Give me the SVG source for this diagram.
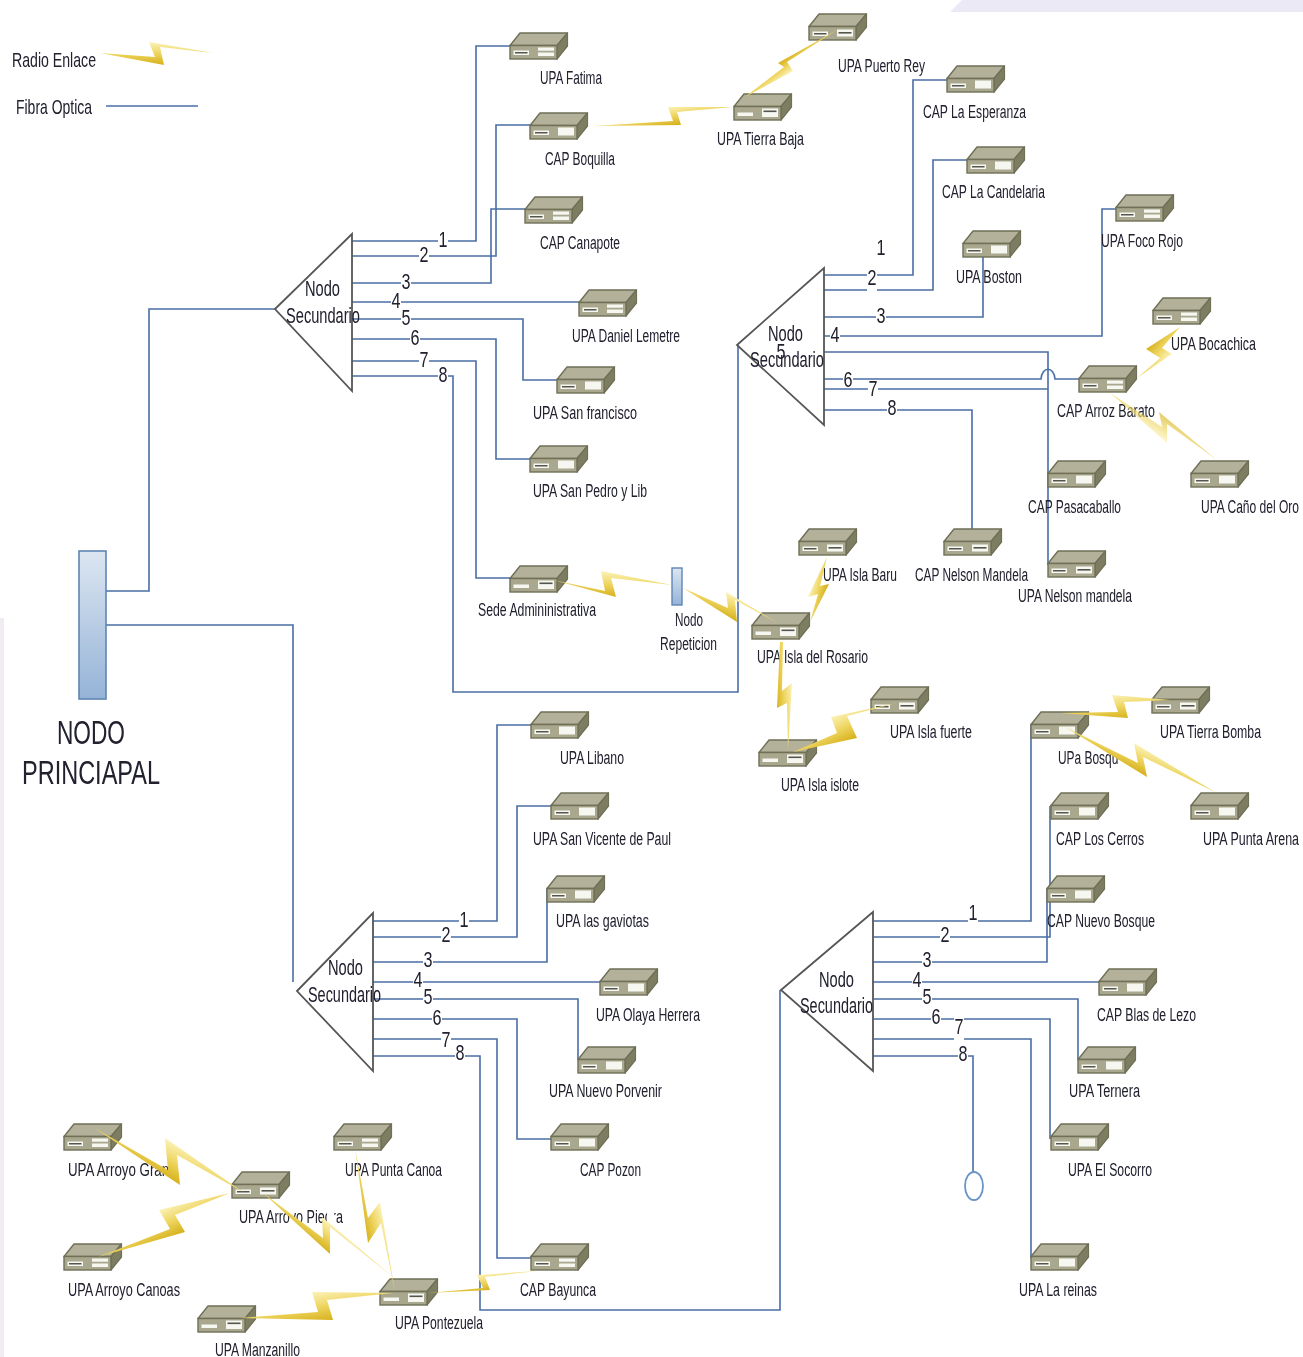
<svg xmlns="http://www.w3.org/2000/svg" xmlns:xlink="http://www.w3.org/1999/xlink" width="1303" height="1357" viewBox="0 0 1303 1357">
<style>
text{font-family:"Liberation Sans",Arial,sans-serif;fill:#20202e}
.l{font-size:18px}
.m{font-size:22px}
.b{font-size:34px}
.g{font-size:21px}
.n{font-size:22px;text-anchor:middle}
.w{fill:#fff;stroke:none}
.c path,.c line{fill:none;stroke:#4a6fa5;stroke-width:1.6}
.t{fill:none;stroke:#565656;stroke-width:1.8}
.dt{fill:#b3b199;stroke:#6f6f57;stroke-width:1.4;stroke-linejoin:round}
.df{fill:#a9a88f;stroke:#6f6f57;stroke-width:1.4}
.ds{fill:#7d7d62;stroke:#6f6f57;stroke-width:1.2;stroke-linejoin:round}
.dw{fill:#f7f7f2}
.dd{fill:#55554c}
</style>
<defs>
<filter id="soft" x="0" y="0" width="100%" height="100%"><feGaussianBlur stdDeviation="0.35"/></filter>
<linearGradient id="gold"><stop offset="0" stop-color="#fbf2b8"/><stop offset="0.5" stop-color="#eed560"/><stop offset="1" stop-color="#d6b01a"/></linearGradient>
<linearGradient id="main" x1="0" y1="0" x2="0" y2="1"><stop offset="0" stop-color="#dce6f1"/><stop offset="1" stop-color="#95b3d7"/></linearGradient>
<linearGradient id="g1" href="#gold" gradientUnits="userSpaceOnUse" x1="149" y1="42" x2="149" y2="65"/>
<linearGradient id="g2" href="#gold" gradientUnits="userSpaceOnUse" x1="668" y1="107" x2="671" y2="126"/>
<linearGradient id="g3" href="#gold" gradientUnits="userSpaceOnUse" x1="793" y1="71" x2="784" y2="59"/>
<linearGradient id="g4" href="#gold" gradientUnits="userSpaceOnUse" x1="1172" y1="354" x2="1154" y2="339"/>
<linearGradient id="g5" href="#gold" gradientUnits="userSpaceOnUse" x1="1167" y1="443" x2="1179" y2="424"/>
<linearGradient id="g6" href="#gold" gradientUnits="userSpaceOnUse" x1="1112" y1="695" x2="1115" y2="720"/>
<linearGradient id="g7" href="#gold" gradientUnits="userSpaceOnUse" x1="1134" y1="743" x2="1124" y2="767"/>
<linearGradient id="g8" href="#gold" gradientUnits="userSpaceOnUse" x1="601" y1="571" x2="600" y2="597"/>
<linearGradient id="g9" href="#gold" gradientUnits="userSpaceOnUse" x1="726" y1="592" x2="718" y2="615"/>
<linearGradient id="g10" href="#gold" gradientUnits="userSpaceOnUse" x1="808" y1="597" x2="824" y2="601"/>
<linearGradient id="g11" href="#gold" gradientUnits="userSpaceOnUse" x1="792" y1="683" x2="775" y2="684"/>
<linearGradient id="g12" href="#gold" gradientUnits="userSpaceOnUse" x1="831" y1="717" x2="844" y2="744"/>
<linearGradient id="g13" href="#gold" gradientUnits="userSpaceOnUse" x1="165" y1="1138" x2="150" y2="1172"/>
<linearGradient id="g14" href="#gold" gradientUnits="userSpaceOnUse" x1="159" y1="1210" x2="172" y2="1238"/>
<linearGradient id="g15" href="#gold" gradientUnits="userSpaceOnUse" x1="322" y1="1217" x2="307" y2="1239"/>
<linearGradient id="g16" href="#gold" gradientUnits="userSpaceOnUse" x1="380" y1="1202" x2="358" y2="1208"/>
<linearGradient id="g17" href="#gold" gradientUnits="userSpaceOnUse" x1="312" y1="1292" x2="317" y2="1323"/>
<linearGradient id="g18" href="#gold" gradientUnits="userSpaceOnUse" x1="477" y1="1275" x2="480" y2="1292"/>
<g id="dev"><path class="dt" d="M0 12.5L10 0H57.5L47 12.5Z"/><path class="ds" d="M47 12.5L57.5 0V13L47 26Z"/><rect class="df" x="0" y="12.5" width="47" height="13.5"/></g>
<g id="da"><use href="#dev"/><rect class="dw" x="3.5" y="17.5" width="15.5" height="4.5"/><rect class="dd" x="5" y="19" width="12.5" height="1.5"/><rect class="dw" x="28" y="14.5" width="16" height="3.2"/><rect class="dw" x="28" y="19.5" width="16" height="3.5"/></g>
<g id="db"><use href="#dev"/><rect class="dw" x="3.5" y="18.5" width="15.5" height="3.5"/><rect class="dw" x="28" y="14.5" width="16" height="8.5"/><rect class="dd" x="29.5" y="16.5" width="13" height="1.6"/></g>
<g id="dc"><use href="#dev"/><rect class="dw" x="3.5" y="17.5" width="15.5" height="4.5"/><rect class="dd" x="5" y="19" width="12.5" height="1.5"/><rect class="dw" x="28" y="14.5" width="16" height="8"/></g>
<g id="dd"><use href="#dev"/><rect class="dw" x="3.5" y="17.5" width="15.5" height="4.5"/><rect class="dd" x="5" y="19" width="12.5" height="1.5"/><rect class="dw" x="28" y="15.5" width="16" height="7"/><rect class="dd" x="29.5" y="18" width="13" height="1.6"/></g>
</defs>
<rect width="1303" height="1357" fill="#fff"/>
<g filter="url(#soft)">
<g id="background-tints"><path d="M962 0H1303V12H950Z" fill="#ebe9f5"/><rect x="0" y="618" width="4" height="739" fill="#f1ebf2"/></g>

<g id="connectors" class="c">
<line x1="106" y1="106" x2="198" y2="106"/>
<path d="M106 591H149V309H275"/>
<path d="M106 625H293V982"/>
<path d="M352 241H476V46H510"/>
<path d="M352 256H496V125H530"/>
<path d="M352 283H491V209H525"/>
<path d="M352 302H579"/>
<path d="M352 319H523V380H557"/>
<path d="M352 339H496V459H530"/>
<path d="M352 361H476V578H510"/>
<path d="M352 376H453V692H738V345"/>
<path d="M824 275H913V80H947"/>
<path d="M824 290H933V160H967"/>
<path d="M824 317H983V250"/>
<path d="M824 336H1102V209H1116"/>
<path d="M824 352H1048V565"/>
<path d="M824 379H1041C1042 366 1054 366 1055 379H1079"/>
<path d="M824 389H1048"/>
<path d="M824 410H972V535"/>
<path d="M373 921H497V725H531"/>
<path d="M373 937H517V806H551"/>
<path d="M373 962H547V889"/>
<path d="M373 982H600"/>
<path d="M373 999H578V1060"/>
<path d="M373 1019H517V1139H551"/>
<path d="M373 1039H497V1258H531"/>
<path d="M373 1056H480V1310H780V990"/>
<path d="M873 921H1031V725"/>
<path d="M873 937H1050V806"/>
<path d="M873 962H1047V889"/>
<path d="M873 982H1099"/>
<path d="M873 999H1078V1060"/>
<path d="M873 1019H1050V1139"/>
<path d="M873 1039H1031V1258"/>
<path d="M873 1056H973V1172"/>
<g id="line-numbers">
<rect class="w" x="438" y="232" width="10" height="17"/><text class="n" x="443" y="247" textLength="9" lengthAdjust="spacingAndGlyphs">1</text>
<rect class="w" x="419" y="247" width="10" height="17"/><text class="n" x="424" y="262" textLength="9" lengthAdjust="spacingAndGlyphs">2</text>
<rect class="w" x="401" y="274" width="10" height="17"/><text class="n" x="406" y="289" textLength="9" lengthAdjust="spacingAndGlyphs">3</text>
<rect class="w" x="391" y="293" width="10" height="17"/><text class="n" x="396" y="308" textLength="9" lengthAdjust="spacingAndGlyphs">4</text>
<rect class="w" x="401" y="310" width="10" height="17"/><text class="n" x="406" y="325" textLength="9" lengthAdjust="spacingAndGlyphs">5</text>
<rect class="w" x="410" y="330" width="10" height="17"/><text class="n" x="415" y="345" textLength="9" lengthAdjust="spacingAndGlyphs">6</text>
<rect class="w" x="419" y="352" width="10" height="17"/><text class="n" x="424" y="367" textLength="9" lengthAdjust="spacingAndGlyphs">7</text>
<rect class="w" x="438" y="367" width="10" height="17"/><text class="n" x="443" y="382" textLength="9" lengthAdjust="spacingAndGlyphs">8</text>
<text class="n" x="881" y="255" textLength="9" lengthAdjust="spacingAndGlyphs">1</text>
<rect class="w" x="867" y="268" width="10" height="24"/><text class="n" x="872" y="285" textLength="9" lengthAdjust="spacingAndGlyphs">2</text>
<rect class="w" x="876" y="308" width="10" height="17"/><text class="n" x="881" y="323" textLength="9" lengthAdjust="spacingAndGlyphs">3</text>
<rect class="w" x="830" y="327" width="10" height="17"/><text class="n" x="835" y="342" textLength="9" lengthAdjust="spacingAndGlyphs">4</text>
<rect class="w" x="843" y="371" width="10" height="17"/><text class="n" x="848" y="387" textLength="9" lengthAdjust="spacingAndGlyphs">6</text>
<rect class="w" x="868" y="381" width="10" height="17"/><text class="n" x="873" y="396" textLength="9" lengthAdjust="spacingAndGlyphs">7</text>
<rect class="w" x="887" y="401" width="10" height="17"/><text class="n" x="892" y="415" textLength="9" lengthAdjust="spacingAndGlyphs">8</text>
<rect class="w" x="459" y="912" width="10" height="17"/><text class="n" x="464" y="927" textLength="9" lengthAdjust="spacingAndGlyphs">1</text>
<rect class="w" x="441" y="928" width="10" height="17"/><text class="n" x="446" y="942" textLength="9" lengthAdjust="spacingAndGlyphs">2</text>
<rect class="w" x="423" y="953" width="10" height="17"/><text class="n" x="428" y="967" textLength="9" lengthAdjust="spacingAndGlyphs">3</text>
<rect class="w" x="413" y="973" width="10" height="17"/><text class="n" x="418" y="987" textLength="9" lengthAdjust="spacingAndGlyphs">4</text>
<rect class="w" x="423" y="990" width="10" height="17"/><text class="n" x="428" y="1004" textLength="9" lengthAdjust="spacingAndGlyphs">5</text>
<rect class="w" x="432" y="1010" width="10" height="17"/><text class="n" x="437" y="1025" textLength="9" lengthAdjust="spacingAndGlyphs">6</text>
<rect class="w" x="441" y="1030" width="10" height="17"/><text class="n" x="446" y="1047" textLength="9" lengthAdjust="spacingAndGlyphs">7</text>
<rect class="w" x="455" y="1047" width="10" height="17"/><text class="n" x="460" y="1060" textLength="9" lengthAdjust="spacingAndGlyphs">8</text>
<rect class="w" x="968" y="912" width="10" height="17"/><text class="n" x="973" y="920" textLength="9" lengthAdjust="spacingAndGlyphs">1</text>
<rect class="w" x="940" y="928" width="10" height="17"/><text class="n" x="945" y="942" textLength="9" lengthAdjust="spacingAndGlyphs">2</text>
<rect class="w" x="922" y="953" width="10" height="17"/><text class="n" x="927" y="967" textLength="9" lengthAdjust="spacingAndGlyphs">3</text>
<rect class="w" x="912" y="973" width="10" height="17"/><text class="n" x="917" y="987" textLength="9" lengthAdjust="spacingAndGlyphs">4</text>
<rect class="w" x="922" y="990" width="10" height="17"/><text class="n" x="927" y="1004" textLength="9" lengthAdjust="spacingAndGlyphs">5</text>
<rect class="w" x="931" y="1010" width="10" height="17"/><text class="n" x="936" y="1024" textLength="9" lengthAdjust="spacingAndGlyphs">6</text>
<rect class="w" x="954" y="1018" width="10" height="24"/><text class="n" x="959" y="1034" textLength="9" lengthAdjust="spacingAndGlyphs">7</text>
<rect class="w" x="958" y="1047" width="10" height="17"/><text class="n" x="963" y="1061" textLength="9" lengthAdjust="spacingAndGlyphs">8</text>
</g>
</g>

<g id="legend">
<text class="g" x="12" y="67" textLength="84" lengthAdjust="spacingAndGlyphs">Radio Enlace</text>
<text class="g" x="16" y="114" textLength="76" lengthAdjust="spacingAndGlyphs">Fibra Optica</text>
</g>

<g id="nodo-principal">
<rect x="79" y="551" width="27" height="148" fill="url(#main)" stroke="#5f85b3" stroke-width="1.6"/>
<text class="b" x="57" y="744" textLength="68" lengthAdjust="spacingAndGlyphs">NODO</text>
<text class="b" x="22" y="784" textLength="138" lengthAdjust="spacingAndGlyphs">PRINCIAPAL</text>
</g>
<g id="nodo-repeticion">
<rect x="672" y="568" width="10" height="37" fill="url(#main)" stroke="#5f85b3" stroke-width="1.4"/>
<text class="l" x="675" y="626" textLength="28" lengthAdjust="spacingAndGlyphs">Nodo</text>
<text class="l" x="660" y="650" textLength="57" lengthAdjust="spacingAndGlyphs">Repeticion</text>
</g>

<g id="nodo-secundario-1"><path class="t" d="M275 309L352 234V391Z"/><text class="m" x="305" y="296" textLength="35" lengthAdjust="spacingAndGlyphs">Nodo</text><text class="m" x="286" y="323" textLength="74" lengthAdjust="spacingAndGlyphs">Secundario</text></g>
<g id="nodo-secundario-2"><path class="t" d="M737 345L824 268V425Z"/><text class="n" x="781" y="359" textLength="9" lengthAdjust="spacingAndGlyphs">5</text><text class="m" x="768" y="341" textLength="35" lengthAdjust="spacingAndGlyphs">Nodo</text><text class="m" x="750" y="367" textLength="74" lengthAdjust="spacingAndGlyphs">Secundario</text></g>
<g id="nodo-secundario-3"><path class="t" d="M297 991L373 913V1071Z"/><text class="m" x="328" y="975" textLength="35" lengthAdjust="spacingAndGlyphs">Nodo</text><text class="m" x="308" y="1002" textLength="73" lengthAdjust="spacingAndGlyphs">Secundario</text></g>
<g id="nodo-secundario-4"><path class="t" d="M781 990L873 912V1071Z"/><text class="m" x="819" y="987" textLength="35" lengthAdjust="spacingAndGlyphs">Nodo</text><text class="m" x="800" y="1013" textLength="73" lengthAdjust="spacingAndGlyphs">Secundario</text></g>
<g id="terminal"><ellipse cx="974" cy="1186" rx="9" ry="14" fill="#fff" stroke="#6a94c8" stroke-width="1.8"/></g>

<g id="upa-fatima"><use href="#da" x="510" y="33"/><text class="l" x="540" y="84" textLength="62" lengthAdjust="spacingAndGlyphs">UPA Fatima</text></g>
<g id="cap-boquilla"><use href="#dc" x="530" y="113"/><text class="l" x="545" y="165" textLength="70" lengthAdjust="spacingAndGlyphs">CAP Boquilla</text></g>
<g id="cap-canapote"><use href="#da" x="525" y="197"/><text class="l" x="540" y="249" textLength="80" lengthAdjust="spacingAndGlyphs">CAP Canapote</text></g>
<g id="upa-daniel"><use href="#da" x="579" y="290"/><text class="l" x="572" y="342" textLength="108" lengthAdjust="spacingAndGlyphs">UPA Daniel Lemetre</text></g>
<g id="upa-san-francisco"><use href="#dc" x="557" y="367"/><text class="l" x="533" y="419" textLength="104" lengthAdjust="spacingAndGlyphs">UPA San francisco</text></g>
<g id="upa-san-pedro"><use href="#dc" x="530" y="446"/><text class="l" x="533" y="497" textLength="114" lengthAdjust="spacingAndGlyphs">UPA San Pedro y Lib</text></g>
<g id="sede"><use href="#db" x="510" y="566"/><text class="l" x="478" y="616" textLength="118" lengthAdjust="spacingAndGlyphs">Sede Admininistrativa</text></g>
<g id="upa-puerto-rey"><use href="#dd" x="809" y="14"/><text class="l" x="838" y="72" textLength="87" lengthAdjust="spacingAndGlyphs">UPA Puerto Rey</text></g>
<g id="upa-tierra-baja"><use href="#db" x="734" y="94"/><text class="l" x="717" y="145" textLength="87" lengthAdjust="spacingAndGlyphs">UPA Tierra Baja</text></g>
<g id="cap-esperanza"><use href="#dc" x="947" y="66"/><text class="l" x="923" y="118" textLength="103" lengthAdjust="spacingAndGlyphs">CAP La Esperanza</text></g>
<g id="cap-candelaria"><use href="#dc" x="967" y="147"/><text class="l" x="942" y="198" textLength="103" lengthAdjust="spacingAndGlyphs">CAP La Candelaria</text></g>
<g id="upa-boston"><use href="#dc" x="963" y="231"/><text class="l" x="956" y="283" textLength="66" lengthAdjust="spacingAndGlyphs">UPA Boston</text></g>
<g id="upa-foco-rojo"><use href="#da" x="1116" y="195"/><text class="l" x="1101" y="247" textLength="82" lengthAdjust="spacingAndGlyphs">UPA Foco Rojo</text></g>
<g id="upa-bocachica"><use href="#da" x="1153" y="298"/><text class="l" x="1171" y="350" textLength="85" lengthAdjust="spacingAndGlyphs">UPA Bocachica</text></g>
<g id="cap-arroz-barato"><use href="#da" x="1079" y="366"/><text class="l" x="1057" y="417" textLength="98" lengthAdjust="spacingAndGlyphs">CAP Arroz Barato</text></g>
<g id="cap-pasacaballo"><use href="#dc" x="1048" y="461"/><text class="l" x="1028" y="513" textLength="93" lengthAdjust="spacingAndGlyphs">CAP Pasacaballo</text></g>
<g id="upa-cano-oro"><use href="#dc" x="1191" y="461"/><text class="l" x="1201" y="513" textLength="98" lengthAdjust="spacingAndGlyphs">UPA Caño del Oro</text></g>
<g id="upa-isla-baru"><use href="#dd" x="799" y="529"/><text class="l" x="823" y="581" textLength="74" lengthAdjust="spacingAndGlyphs">UPA Isla Baru</text></g>
<g id="cap-nelson"><use href="#dd" x="944" y="529"/><text class="l" x="915" y="581" textLength="113" lengthAdjust="spacingAndGlyphs">CAP Nelson Mandela</text></g>
<g id="upa-nelson"><use href="#dd" x="1048" y="551"/><text class="l" x="1018" y="602" textLength="114" lengthAdjust="spacingAndGlyphs">UPA Nelson mandela</text></g>
<g id="upa-isla-rosario"><use href="#db" x="752" y="613"/><text class="l" x="757" y="663" textLength="111" lengthAdjust="spacingAndGlyphs">UPA Isla del Rosario</text></g>
<g id="upa-isla-fuerte"><use href="#dd" x="871" y="687"/><text class="l" x="890" y="738" textLength="82" lengthAdjust="spacingAndGlyphs">UPA Isla fuerte</text></g>
<g id="upa-isla-islote"><use href="#db" x="759" y="740"/><text class="l" x="781" y="791" textLength="78" lengthAdjust="spacingAndGlyphs">UPA Isla islote</text></g>
<g id="upa-libano"><use href="#dc" x="531" y="712"/><text class="l" x="560" y="764" textLength="64" lengthAdjust="spacingAndGlyphs">UPA Libano</text></g>
<g id="upa-san-vicente"><use href="#dc" x="551" y="793"/><text class="l" x="533" y="845" textLength="138" lengthAdjust="spacingAndGlyphs">UPA San Vicente de Paul</text></g>
<g id="upa-gaviotas"><use href="#dc" x="547" y="876"/><text class="l" x="556" y="927" textLength="93" lengthAdjust="spacingAndGlyphs">UPA las gaviotas</text></g>
<g id="upa-olaya"><use href="#dc" x="600" y="969"/><text class="l" x="596" y="1021" textLength="104" lengthAdjust="spacingAndGlyphs">UPA Olaya Herrera</text></g>
<g id="upa-nuevo-porvenir"><use href="#dc" x="578" y="1047"/><text class="l" x="549" y="1097" textLength="113" lengthAdjust="spacingAndGlyphs">UPA Nuevo Porvenir</text></g>
<g id="cap-pozon"><use href="#dc" x="551" y="1124"/><text class="l" x="580" y="1176" textLength="61" lengthAdjust="spacingAndGlyphs">CAP Pozon</text></g>
<g id="cap-bayunca"><use href="#da" x="531" y="1244"/><text class="l" x="520" y="1296" textLength="76" lengthAdjust="spacingAndGlyphs">CAP Bayunca</text></g>
<g id="upa-bosque"><use href="#dc" x="1031" y="712"/><text class="l" x="1058" y="764" textLength="67" lengthAdjust="spacingAndGlyphs">UPa Bosque</text></g>
<g id="upa-tierra-bomba"><use href="#dd" x="1152" y="687"/><text class="l" x="1160" y="738" textLength="101" lengthAdjust="spacingAndGlyphs">UPA Tierra Bomba</text></g>
<g id="upa-punta-arena"><use href="#dc" x="1191" y="793"/><text class="l" x="1203" y="845" textLength="96" lengthAdjust="spacingAndGlyphs">UPA Punta Arena</text></g>
<g id="cap-los-cerros"><use href="#dc" x="1051" y="793"/><text class="l" x="1056" y="845" textLength="88" lengthAdjust="spacingAndGlyphs">CAP Los Cerros</text></g>
<g id="cap-nuevo-bosque"><use href="#dc" x="1047" y="876"/><text class="l" x="1047" y="927" textLength="108" lengthAdjust="spacingAndGlyphs">CAP Nuevo Bosque</text></g>
<g id="cap-blas-lezo"><use href="#dc" x="1099" y="969"/><text class="l" x="1097" y="1021" textLength="99" lengthAdjust="spacingAndGlyphs">CAP Blas de Lezo</text></g>
<g id="upa-ternera"><use href="#dc" x="1078" y="1047"/><text class="l" x="1069" y="1097" textLength="71" lengthAdjust="spacingAndGlyphs">UPA Ternera</text></g>
<g id="upa-el-socorro"><use href="#dc" x="1051" y="1124"/><text class="l" x="1068" y="1176" textLength="84" lengthAdjust="spacingAndGlyphs">UPA El Socorro</text></g>
<g id="upa-la-reinas"><use href="#dc" x="1031" y="1244"/><text class="l" x="1019" y="1296" textLength="78" lengthAdjust="spacingAndGlyphs">UPA La reinas</text></g>
<g id="upa-arroyo-grande"><use href="#da" x="64" y="1124"/><text class="l" x="68" y="1176" textLength="116" lengthAdjust="spacingAndGlyphs">UPA Arroyo Grande</text></g>
<g id="upa-arroyo-piedra"><use href="#dd" x="232" y="1172"/><text class="l" x="239" y="1223" textLength="104" lengthAdjust="spacingAndGlyphs">UPA Arroyo Piedra</text></g>
<g id="upa-arroyo-canoas"><use href="#da" x="64" y="1244"/><text class="l" x="68" y="1296" textLength="112" lengthAdjust="spacingAndGlyphs">UPA Arroyo Canoas</text></g>
<g id="upa-punta-canoa"><use href="#da" x="334" y="1124"/><text class="l" x="345" y="1176" textLength="97" lengthAdjust="spacingAndGlyphs">UPA Punta Canoa</text></g>
<g id="upa-pontezuela"><use href="#db" x="380" y="1279"/><text class="l" x="395" y="1329" textLength="88" lengthAdjust="spacingAndGlyphs">UPA Pontezuela</text></g>
<g id="upa-manzanillo"><use href="#db" x="198" y="1306"/><text class="l" x="215" y="1356" textLength="85" lengthAdjust="spacingAndGlyphs">UPA Manzanillo</text></g>

<g id="radio-links">
<rect class="w" x="171" y="1160" width="15" height="20"/>
<rect class="w" x="290" y="1208" width="4" height="19"/>
<rect class="w" x="327" y="1208" width="7" height="19"/>
<rect class="w" x="1118" y="750" width="8" height="18"/>
<polygon fill="url(#g1)" points="100,53 155,57 149,42 213,53 160,47 164,65"/>
<polygon fill="url(#g2)" points="593,126 673,121 668,107 733,107 677,112 681,125"/>
<polygon fill="url(#g3)" points="837,30 778,63 784,67 745,97 793,71 787,62"/>
<polygon fill="url(#g4)" points="1180,327 1146,349 1160,358 1137,378 1172,354 1162,348"/>
<polygon fill="url(#g5)" fill-opacity="0.65" points="1110,393 1162,427 1159,412 1217,460 1167,424 1167,443"/>
<polygon fill="url(#g6)" points="1060,713 1118,712 1112,695 1170,700 1124,702 1128,718"/>
<polygon fill="url(#g7)" points="1065,727 1138,763 1134,743 1215,792 1143,757 1147,777"/>
<polygon fill="url(#g8)" points="553,580 605,591 601,571 672,585 611,578 616,597"/>
<polygon fill="url(#g9)" points="683,588 728,608 726,592 778,623 735,600 737,622"/>
<polygon fill="url(#g10)" points="827,557 808,597 818,594 810,622 829,584 820,586"/>
<polygon fill="url(#g11)" points="780,642 783,642 782,691 792,683 788,750 787,703 777,708"/>
<polygon fill="url(#g12)" points="793,752 837,733 831,717 897,703 847,716 857,738"/>
<polygon fill="url(#g13)" points="93,1127 168,1170 165,1138 243,1192 177,1155 180,1185"/>
<polygon fill="url(#g14)" points="98,1257 170,1229 159,1210 230,1193 175,1215 185,1232"/>
<polygon fill="url(#g15)" points="263,1193 323,1238 322,1217 393,1277 330,1227 330,1254"/>
<polygon fill="url(#g16)" points="355,1148 368,1218 380,1202 395,1292 381,1223 368,1243"/>
<polygon fill="url(#g17)" points="240,1318 318,1312 312,1292 393,1293 327,1300 333,1320"/>
<polygon fill="url(#g18)" points="428,1293 483,1288 477,1275 537,1271 485,1277 490,1290"/>
</g>
</g>
</svg>
